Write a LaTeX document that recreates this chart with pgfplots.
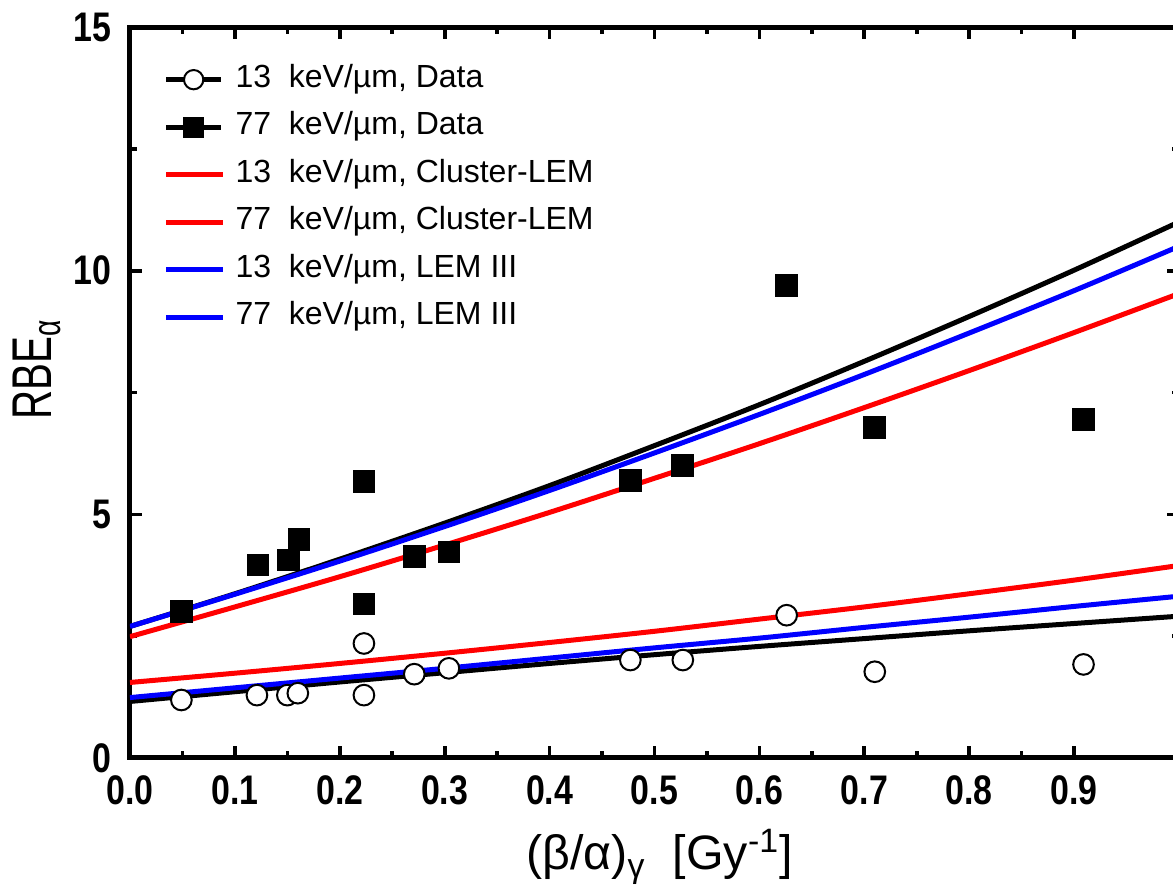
\documentclass[border=0pt]{standalone}
\usepackage{fontspec}
\setmainfont{Liberation Sans}
\newfontfamily\tickfont[FakeStretch=0.82]{Liberation Sans}
\newfontfamily\ylabfont[FakeStretch=0.72]{Liberation Sans}
\usepackage{pgfplots}
\pgfplotsset{compat=1.18}
\definecolor{myred}{RGB}{255,0,0}
\definecolor{myblue}{RGB}{0,0,255}
\begin{document}
\begin{tikzpicture}
\begin{axis}[
  scale only axis,
  width=314.7pt, height=219.3pt,
  at={(0,0)}, anchor=south west,
  xmin=0, xmax=1, ymin=0, ymax=15,
  axis line style={line width=1.5pt},
  /pgf/number format/assume math mode=true,
  xtick={0,0.1,0.2,0.3,0.4,0.5,0.6,0.7,0.8,0.9},
  xticklabels={0.0,0.1,0.2,0.3,0.4,0.5,0.6,0.7,0.8,0.9},
  ytick={0,5,10,15},
  yticklabels={0,5,10,15},
  minor x tick num=1,
  minor y tick num=1,
  tick align=inside,
  major tick length=3.6pt,
  minor tick length=2.1pt,
  every tick/.style={black, line width=1.1pt},
  xticklabel style={font=\tickfont\bfseries\fontsize{12.4}{14}\selectfont, anchor=base, inner sep=0pt, yshift=-14.1pt},
  yticklabel style={font=\tickfont\bfseries\fontsize{12.4}{14}\selectfont, anchor=east, inner sep=0pt, xshift=-5.4pt},
  xlabel={(β/α)\textsubscript{γ}\ \ [Gy\textsuperscript{-1}]},
  ylabel={RBE\textsubscript{α}},
  every axis x label/.style={at={([yshift=-33.6pt]rel axis cs:0.505,0)}, anchor=base, inner sep=0pt, font=\fontsize{14.5}{16}\selectfont},
  every axis y label/.style={at={([xshift=-23.4pt]rel axis cs:0,0.532)}, rotate=90, anchor=base, inner sep=0pt, font=\ylabfont\fontsize{16.8}{19}\selectfont},
  legend style={at={(rel axis cs:0,1)}, anchor=north west, xshift=9.9pt, yshift=-10.85pt,
    draw=none, fill=none, inner sep=0pt, row sep=4.75pt, column sep=3pt,
    font=\fontsize{9.6}{11}\selectfont,
    nodes={inner sep=0pt, text height=7pt, text depth=2.5pt}},
  legend cell align=left,
  clip=true,
]
% data (drawn first, lines on top)
\addplot[only marks, mark=*, mark size=3.1pt, mark options={fill=white, draw=black, line width=0.6pt},
  legend image code/.code={\draw[black, line width=1.5pt] (0cm,0cm) -- (0.58cm,0cm);
    \draw[black, fill=white, line width=0.6pt] (0.29cm,0cm) circle (2.9pt);}]
  coordinates {
  (0.049,1.19) (0.121,1.29) (0.150,1.29) (0.160,1.33) (0.223,2.35) (0.223,1.29)
  (0.271,1.72) (0.304,1.84) (0.477,2.01) (0.527,2.01) (0.626,2.93) (0.710,1.77) (0.909,1.92)};
\addlegendentry{13\ \ keV/µm,\ Data}
\addplot[only marks, mark=square*, mark size=3.25pt, mark options={fill=black, draw=black, line width=0pt},
  legend image code/.code={\draw[black, line width=1.5pt] (0cm,0cm) -- (0.58cm,0cm);
    \fill[black] (0.29cm,0cm) ++(-3pt,-3pt) rectangle ++(6pt,6pt);}]
  coordinates {
  (0.049,3.00) (0.122,3.96) (0.151,4.06) (0.161,4.49) (0.223,5.68) (0.223,3.16)
  (0.271,4.13) (0.304,4.23) (0.477,5.69) (0.527,6.00) (0.626,9.69) (0.710,6.78) (0.909,6.94)};
\addlegendentry{77\ \ keV/µm,\ Data}
% black fit lines (no legend)
\addplot[black, line width=1.5pt, smooth, forget plot] coordinates {
  (0,1.16) (0.1,1.36) (0.2,1.56) (0.3,1.75) (0.4,1.94) (0.5,2.12) (0.6,2.29) (0.7,2.45) (0.8,2.61) (0.9,2.76) (1.0,2.91)};
\addplot[black, line width=1.5pt, smooth, forget plot] coordinates {
  (0,2.70) (0.1,3.37) (0.2,4.08) (0.3,4.82) (0.4,5.59) (0.5,6.41) (0.6,7.25) (0.7,8.14) (0.8,9.06) (0.9,10.01) (1.0,11.00)};
% Cluster-LEM
\addplot[myred, line width=1.5pt, smooth] coordinates {
  (0,1.55) (0.1,1.74) (0.2,1.94) (0.3,2.15) (0.4,2.37) (0.5,2.60) (0.6,2.85) (0.7,3.10) (0.8,3.37) (0.9,3.65) (1.0,3.95)};
\addlegendentry{13\ \ keV/µm,\ Cluster-LEM}
\addplot[myred, line width=1.5pt, smooth] coordinates {
  (0,2.49) (0.1,3.10) (0.2,3.72) (0.3,4.37) (0.4,5.04) (0.5,5.74) (0.6,6.45) (0.7,7.19) (0.8,7.95) (0.9,8.73) (1.0,9.53)};
\addlegendentry{77\ \ keV/µm,\ Cluster-LEM}
% LEM III
\addplot[myblue, line width=1.5pt, smooth] coordinates {
  (0,1.24) (0.1,1.44) (0.2,1.64) (0.3,1.84) (0.4,2.05) (0.5,2.26) (0.6,2.46) (0.7,2.68) (0.8,2.89) (0.9,3.11) (1.0,3.32)};
\addlegendentry{13\ \ keV/µm,\ LEM\ III}
\addplot[myblue, line width=1.5pt, smooth] coordinates {
  (0,2.70) (0.1,3.36) (0.2,4.04) (0.3,4.75) (0.4,5.49) (0.5,6.26) (0.6,7.05) (0.7,7.87) (0.8,8.72) (0.9,9.59) (1.0,10.50)};
\addlegendentry{77\ \ keV/µm,\ LEM\ III}
\end{axis}
\pgfresetboundingbox
\useasboundingbox (-39pt,-40.8pt) rectangle (312.9pt,227.4pt);
\end{tikzpicture}
\end{document}
